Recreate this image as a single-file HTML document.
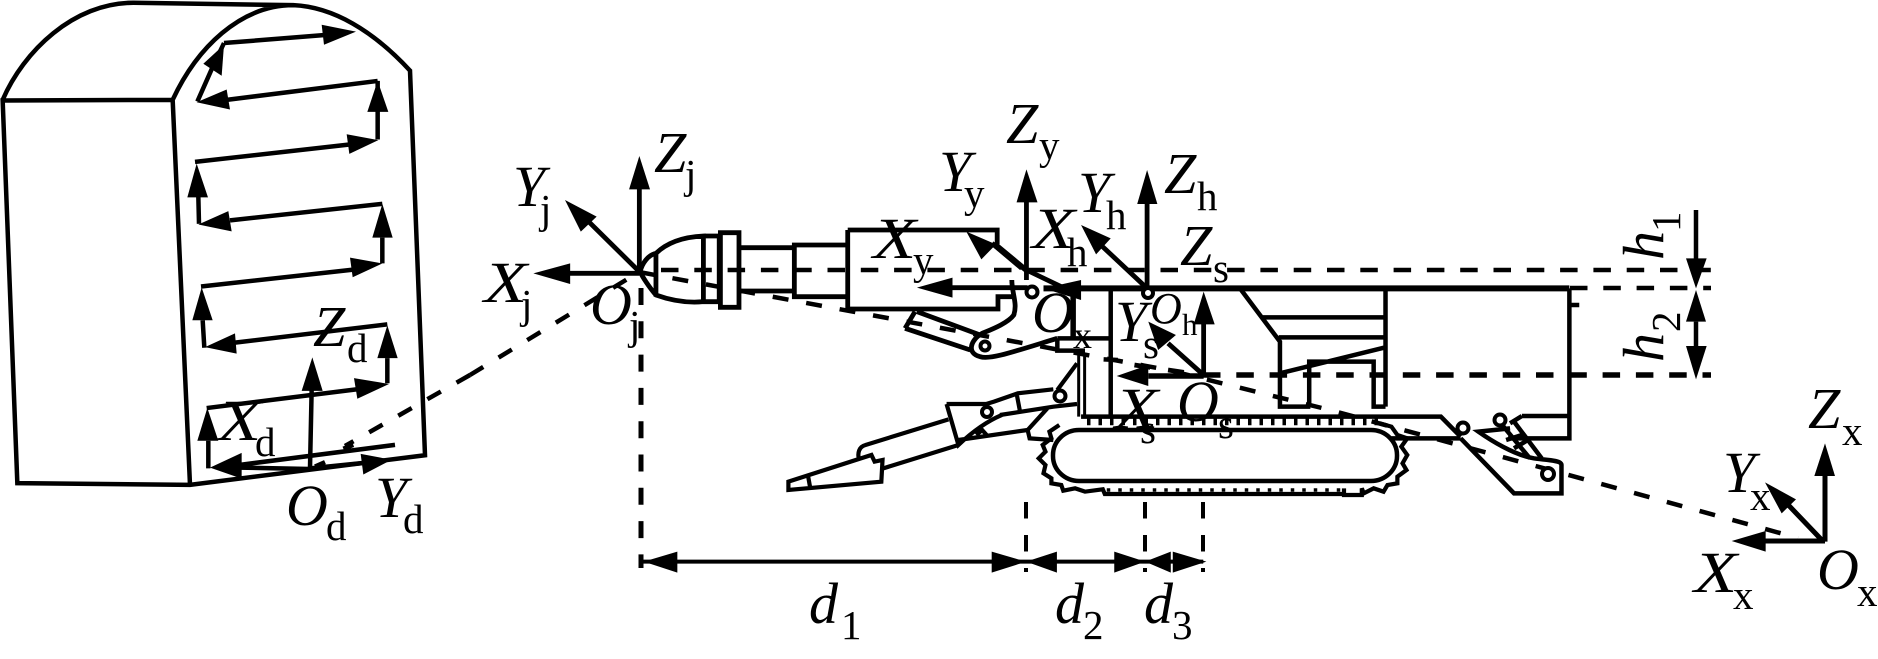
<!DOCTYPE html>
<html><head><meta charset="utf-8"><style>
html,body{margin:0;padding:0;background:#fff}
svg{display:block}
.s *{fill:none;stroke:#000;vector-effect:non-scaling-stroke;stroke-linejoin:miter}
.f *{fill:#000;stroke:none}
text{font-family:"Liberation Serif",serif;fill:#000;stroke:none}
.m{font-style:italic;font-size:58px}
.b{font-size:41px}
</style></head><body>
<svg width="1878" height="659" viewBox="0 0 1878 659" xmlns="http://www.w3.org/2000/svg">
<!-- labels -->
<g>
<text class="m" x="654" y="172">Z</text><text class="b" x="685" y="188">j</text>
<text class="m" x="513" y="206">Y</text><text class="b" x="540" y="223">j</text>
<text class="m" transform="translate(484,302) scale(1.22,1)">X</text><text class="b" x="521" y="318">j</text>
<text class="m" x="590" y="324">O</text><text class="b" x="629" y="339">j</text>
<text class="m" x="1006" y="143">Z</text><text class="b" x="1039" y="159">y</text>
<text class="m" x="939" y="191">Y</text><text class="b" x="964" y="207">y</text>
<text class="m" transform="translate(873,258) scale(1.22,1)">X</text><text class="b" x="913" y="274">y</text>
<text class="m" transform="translate(1032,248) scale(1.22,1)">X</text><text class="b" x="1067" y="266">h</text>
<text class="m" x="1078" y="212">Y</text><text class="b" x="1106" y="229">h</text>
<text class="m" x="1164" y="193">Z</text><text class="b" x="1197" y="210">h</text>
<text class="m" x="1180" y="265">Z</text><text class="b" x="1213" y="282">s</text>
<text class="m" x="1150" y="323" style="font-size:44px">O</text><text class="b" x="1182" y="335" style="font-size:31px">h</text>
<text class="m" x="1032" y="332">O</text><text class="b" x="1073" y="348" style="font-size:38px">x</text>
<text class="m" x="1115" y="341">Y</text><text class="b" x="1143" y="358">s</text>
<text class="m" transform="translate(1115,428) scale(1.22,1)">X</text><text class="b" x="1140" y="443">s</text>
<text class="m" x="1177" y="421">O</text><text class="b" x="1218" y="438">s</text>
<text class="m" x="313" y="346">Z</text><text class="b" x="347" y="362">d</text>
<text class="m" transform="translate(218,440) scale(1.22,1)">X</text><text class="b" x="255" y="456">d</text>
<text class="m" x="286" y="525">O</text><text class="b" x="326" y="540">d</text>
<text class="m" x="375" y="517">Y</text><text class="b" x="403" y="533">d</text>
<text class="m" x="1808" y="428">Z</text><text class="b" x="1842" y="445">x</text>
<text class="m" x="1723" y="492">Y</text><text class="b" x="1750" y="510">x</text>
<text class="m" transform="translate(1694,592) scale(1.22,1)">X</text><text class="b" x="1733" y="609">x</text>
<text class="m" x="1817" y="589">O</text><text class="b" x="1857" y="606">x</text>
<text class="m" x="809" y="623">d</text><text class="b" x="841" y="639">1</text>
<text class="m" x="1055" y="623">d</text><text class="b" x="1083" y="639">2</text>
<text class="m" x="1144" y="623">d</text><text class="b" x="1172" y="639">3</text>
<text class="m" transform="translate(1663,260) rotate(-90)">h</text><text class="b" transform="translate(1680,232) rotate(-90)">1</text>
<text class="m" transform="translate(1663,362) rotate(-90)">h</text><text class="b" transform="translate(1680,332) rotate(-90)">2</text>
</g>

<!-- dashed lines -->
<g class="s">
<path stroke-width="4.5" stroke-dasharray="17.5 15.8" d="M661,270H1711"/>
<path stroke-width="4.5" stroke-dasharray="17.5 15.8" d="M1570,288H1711"/>
<path stroke-width="5.5" stroke-dasharray="17.5 15.8" d="M1203,375H1711"/>
<path stroke-width="4.5" stroke-dasharray="16 18" d="M639,272L1168,370L1330,410L1587,480L1798,538"/>
<path stroke-width="5" stroke-dasharray="17 16.3" d="M641,288V568"/>
<path stroke-width="4.5" stroke-dasharray="15.5 18" d="M470,375L639,272"/>
<path stroke-width="4.5" stroke-dasharray="15.5 18" d="M470,375L345,446"/>
<path stroke-width="4" stroke-dasharray="16.5 16.5" d="M1026,502V572M1145,502V572M1203,502V572"/>
</g>

<!-- zoom-1 group: face -->
<g transform="scale(.33333,.34435)">
<g class="s">
<path style="stroke-width:4.5" d="M8,290C70,150 220,8 400,8L880,15M518,290C590,140 720,15 880,15C1000,20 1120,90 1230,205L1275,1322L570,1408L52,1403L8,292L518,290L570,1408"/>
<path style="stroke-width:4.5" d="M592,295L640,190M672,125L970,102M672,125L640,190M1133,235L680,290M1133,405V320M1133,235V320M585,470L1045,420M597,650L595,570M1147,592L690,640M1147,765V690M603,832L1060,783M613,1010L608,930M1162,942L705,995M1162,1113V1040M620,1185L1075,1130M625,1360V1280M720,1350L1185,1292M930,1360L935,1130M930,1362L720,1358M930,1360L1085,1345M1030,1303L1060,1292M945,1355L975,1342"/>
</g>
<g class="f">
<path d="M672,130L610,185L665,220Z"/>
<path d="M1068,92L965,72L972,130Z"/>
<path d="M590,297L680,260L690,318Z"/>
<path d="M1133,235L1102,325L1165,325Z"/>
<path d="M1135,407L1040,390L1048,447Z"/>
<path d="M590,475L562,573L624,573Z"/>
<path d="M595,652L685,613L695,672Z"/>
<path d="M1147,592L1117,690L1178,690Z"/>
<path d="M1147,765L1050,748L1058,805Z"/>
<path d="M605,835L577,930L638,930Z"/>
<path d="M615,1008L705,968L710,1027Z"/>
<path d="M1162,945L1132,1040L1193,1040Z"/>
<path d="M1167,1115L1062,1098L1072,1158Z"/>
<path d="M622,1185L592,1280L655,1280Z"/>
<path d="M630,1358L725,1315L725,1390Z"/>
<path d="M937,1038L905,1135L968,1135Z"/>
<path d="M1175,1335L1082,1318L1090,1378Z"/>
</g>
</g>

<!-- zoom-2 group: head, arm -->
<g transform="translate(480,100) scale(.3954,.33333)">
<g class="s">
<path style="stroke-width:4.8" d="M403,515V265M403,515L275,365M403,520H225M1382,540V305M1385,515L1295,430M1385,563H1195"/>
<path style="stroke-width:4.8" d="M445,460C480,420 530,410 565,408V605C520,610 480,600 445,585C430,565 410,530 405,515C410,490 425,465 445,460V590M565,408H605V605H565M608,398H655V622H608ZM655,443H795M655,573H795M795,435H930V590H795ZM930,390H1308V437L1382,510L1470,560M1295,430L1370,505M930,390V627H1310V590H1350M1345,540C1345,580 1360,610 1350,645C1335,670 1290,690 1270,700C1240,720 1230,760 1265,770C1290,780 1350,755 1460,715M1105,635L1265,705M1075,685L1240,750M1100,635L1075,685"/>
<path style="stroke-width:4.2" d="M1180,912H1280L1300,905L1360,880L1450,868M1315,945L1450,920L1510,912M1357,880L1365,930M1180,912L1210,1035C1250,990 1290,960 1320,945M1210,1020L1385,990L1435,925M1385,990L1390,1015L1450,1020M1460,870L1510,790M1255,1005L1270,990L1285,1010M1185,958L975,1035C958,1040 955,1060 958,1075M1210,1035L1020,1105M780,1145L990,1065L998,1085L1018,1080L1015,1145L780,1170ZM830,1130L835,1163"/>
</g>
<g class="f">
<path d="M403,168L377,268L430,268Z"/>
<path d="M215,300L255,395L295,350Z"/>
<path d="M135,520L228,490L228,552Z"/>
<path d="M1382,208L1357,307L1410,307Z"/>
<path d="M1230,395L1268,478L1305,433Z"/>
<path d="M1105,563L1195,533L1195,593Z"/>
</g>
</g>

<!-- zoom-3 group: body -->
<g transform="translate(1000,130) scale(.3954,.33333)">
<g class="s">
<path style="stroke-width:6" d="M110,475H1440"/>
<path style="stroke-width:5.5" d="M185,475V630"/>
<path style="stroke-width:4.8" d="M372,475V220M372,475L255,345M515,735V580M510,730L425,640M340,705L380,712M425,720L465,727"/>
<path style="stroke-width:5.5" d="M515,738H375"/>
<path style="stroke-width:4.5" d="M145,625H280M145,625V662H215M280,480V860M205,860H1115L1165,920M990,925H1165M1440,475V925H1285M1320,858H1440M1320,858L1290,880M1440,525H1465M610,480L708,635V830H785M782,830V695H945V830H975M975,475V830M665,562H975M705,622H975M708,730L975,652M262,688L298,690"/>
<path style="stroke-width:3" d="M199,670V860M214,670V860"/>
<path style="stroke-width:4.2" d="M150,885L125,905L130,925L108,945L115,965L98,985L115,1005L110,1030L130,1045L130,1060L155,1065L160,1082L190,1075L215,1085L260,1078L265,1092H870V1075V1095H915V1075L920,1090L945,1075L970,1085L980,1065L1005,1060L1005,1040L1028,1020L1018,1000L1030,975L1015,950L1030,925L1005,915L990,890L960,880"/>
<path style="stroke-width:8.5" stroke-dasharray="3.5 8" d="M220,873H960"/>
<path style="stroke-width:3.5" stroke-dasharray="3.5 8" d="M270,1080H870"/>
<path style="stroke-width:4.5" d="M1165,925L1300,1090H1420V1005C1420,990 1380,990 1350,985C1300,975 1240,930 1210,905L1290,895M1300,875L1370,985M1270,885L1340,985M1280,930L1320,915M1300,955L1335,930"/>
</g>
<g class="f">
<path d="M110,475L205,450L205,510Z"/>
<path d="M372,120L347,222L398,222Z"/>
<path d="M205,285L243,373L280,325Z"/>
<path d="M515,485L490,583L543,583Z"/>
<path d="M375,575L400,660L445,615Z"/>
<path d="M295,738L375,705L375,768Z"/>
</g>
</g>
<rect x="1053" y="430" width="344" height="51" rx="26" ry="25" fill="none" stroke="#000" stroke-width="4.5"/>
<g fill="#fff" stroke="#000" stroke-width="4">
<circle cx="1463" cy="428" r="5.5"/><circle cx="1500" cy="420" r="5.5"/><circle cx="1548" cy="474" r="6"/>
<circle cx="1148" cy="293" r="5"/><circle cx="1032" cy="292" r="5.5"/><circle cx="985" cy="346" r="4.5"/>
<circle cx="987" cy="412" r="5"/><circle cx="1060" cy="396" r="5.5"/>
</g>

<!-- zoom-4 group: right -->
<g transform="translate(1500,180) scale(.33333)">
<g class="s">
<path style="stroke-width:4.5" d="M588,90V240M588,425V500"/>
<path style="stroke-width:5" d="M975,1085V885M970,1085L865,975M975,1083H795"/>
</g>
<g class="f">
<path d="M588,325L558,235H620Z"/>
<path d="M588,330L558,425H618Z"/>
<path d="M588,598L558,498H620Z"/>
<path d="M975,790L943,888H1005Z"/>
<path d="M795,907L845,1000L888,958Z"/>
<path d="M695,1083L797,1053V1115Z"/>
</g>
</g>

<!-- zoom-5 group: dimensions -->
<g transform="translate(620,480) scale(.3954,.33333)">
<g class="s"><path style="stroke-width:4" d="M55,245H1475"/></g>
<g class="f">
<path d="M60,245L145,215V278Z"/>
<path d="M1027,245L940,215V278Z"/>
<path d="M1027,245L1105,215V278Z"/>
<path d="M1328,245L1250,215V278Z"/>
<path d="M1328,245L1393,215V278Z"/>
<path d="M1483,245L1398,215V278Z"/>
</g>
</g>
</svg>
</body></html>
